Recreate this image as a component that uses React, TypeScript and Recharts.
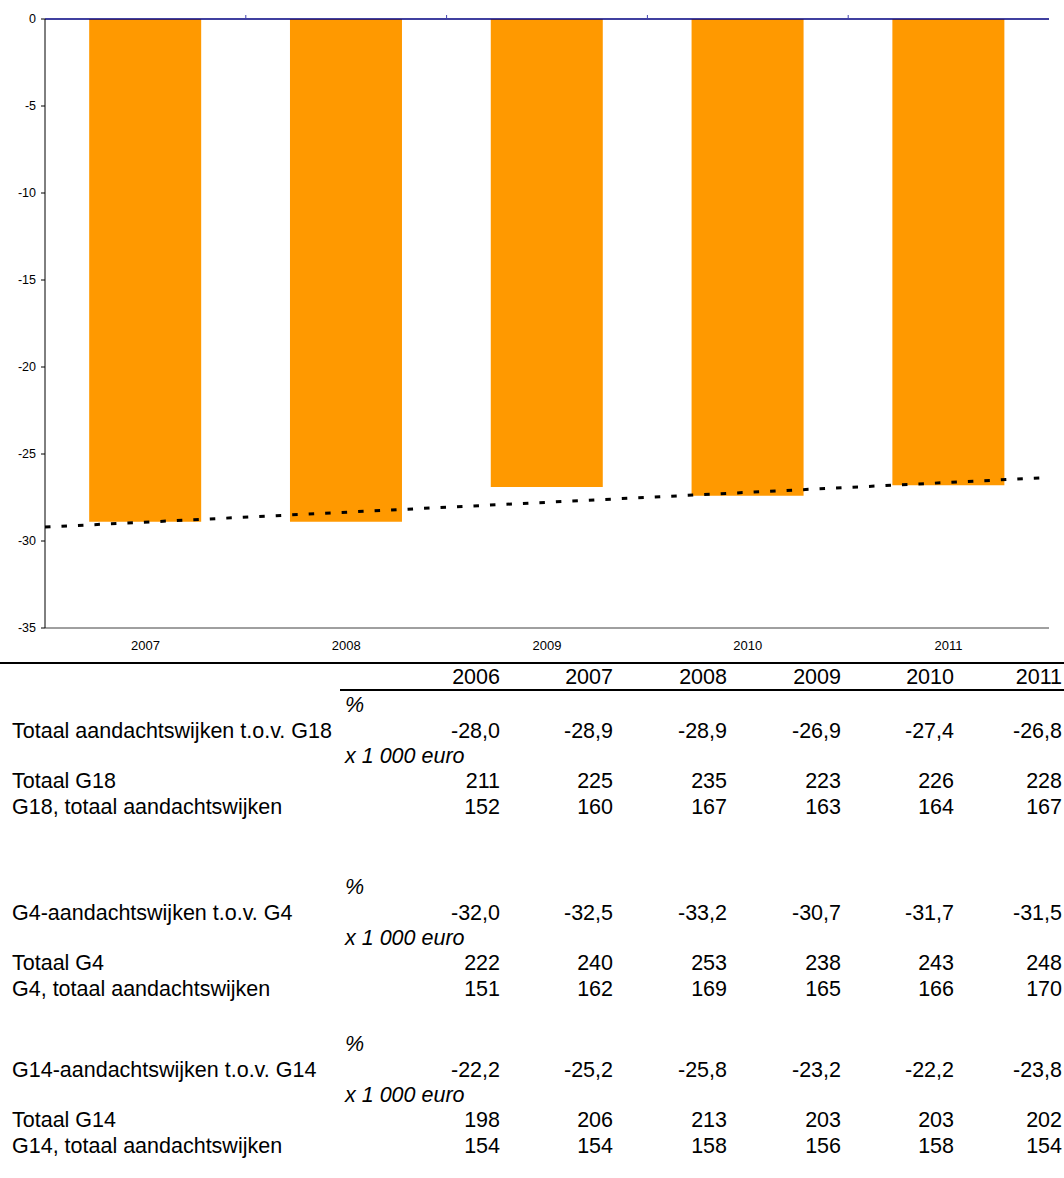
import { Bar, ComposedChart, ReferenceLine, XAxis, YAxis } from 'recharts'

const years = ['2006', '2007', '2008', '2009', '2010', '2011']

const g18Pct = [-28.0, -28.9, -28.9, -26.9, -27.4, -26.8]
const g18Total = [211, 225, 235, 223, 226, 228]
const g18Wijken = [152, 160, 167, 163, 164, 167]

const g4Pct = [-32.0, -32.5, -33.2, -30.7, -31.7, -31.5]
const g4Total = [222, 240, 253, 238, 243, 248]
const g4Wijken = [151, 162, 169, 165, 166, 170]

const g14Pct = [-22.2, -25.2, -25.8, -23.2, -22.2, -23.8]
const g14Total = [198, 206, 213, 203, 203, 202]
const g14Wijken = [154, 154, 158, 156, 158, 154]

// trend line at the left and right edge of the plot
const trendEnds = [-29.2, -26.35]
const yTicks = [0, -5, -10, -15, -20, -25, -30, -35]

// the chart shows 2007-2011 of the G18 percentage row
const chartData = years.slice(1).map((year, i) => ({
  year,
  idx: i + 1,
  value: g18Pct[i + 1],
}))

const sections = [
  {
    pctLabel: 'Totaal aandachtswijken t.o.v. G18',
    pct: g18Pct,
    totalLabel: 'Totaal G18',
    total: g18Total,
    wijkLabel: 'G18, totaal aandachtswijken',
    wijk: g18Wijken,
  },
  {
    pctLabel: 'G4-aandachtswijken t.o.v. G4',
    pct: g4Pct,
    totalLabel: 'Totaal G4',
    total: g4Total,
    wijkLabel: 'G4, totaal aandachtswijken',
    wijk: g4Wijken,
  },
  {
    pctLabel: 'G14-aandachtswijken t.o.v. G14',
    pct: g14Pct,
    totalLabel: 'Totaal G14',
    total: g14Total,
    wijkLabel: 'G14, totaal aandachtswijken',
    wijk: g14Wijken,
  },
]

const sectionTops = [705, 887, 1044]
const rowOffsets = [0, 26, 50.5, 76, 102]
const colRights = [500, 613, 727, 841, 954, 1062]
const PAGE_W = 1064

const fmtPct = (v: number) => v.toFixed(1).replace('.', ',')

function Cell({ y, x, right, italic, children }: {
  y: number
  x?: number
  right?: number
  italic?: boolean
  children: React.ReactNode
}) {
  return (
    <div
      style={{
        position: 'absolute',
        top: y - 13,
        height: 26,
        lineHeight: '26px',
        whiteSpace: 'nowrap',
        left: x,
        right: right !== undefined ? PAGE_W - right : undefined,
        textAlign: right !== undefined ? 'right' : 'left',
        fontStyle: italic ? 'italic' : 'normal',
      }}
    >
      {children}
    </div>
  )
}

function ValueRow({ y, label, values, format }: {
  y: number
  label: string
  values: number[]
  format?: (v: number) => string
}) {
  return (
    <>
      <Cell y={y} x={12}>{label}</Cell>
      {values.map((v, i) => (
        <Cell key={i} y={y} right={colRights[i]}>
          {format ? format(v) : String(v)}
        </Cell>
      ))}
    </>
  )
}

export default function App() {
  return (
    <div
      style={{
        position: 'absolute',
        top: 0,
        left: 0,
        width: PAGE_W,
        height: 1178,
        background: '#fff',
        fontFamily: '"Liberation Sans", Arial, sans-serif',
        fontSize: 21.5,
        color: '#000',
      }}
    >
      <ComposedChart
        width={PAGE_W}
        height={662}
        data={chartData}
        margin={{ top: 18, right: 15, left: 5, bottom: 0 }}
        barCategoryGap="22%"
      >
        <XAxis
          dataKey="year"
          axisLine={{ stroke: '#404040' }}
          tickLine={false}
          tickSize={0}
          tickMargin={13}
          height={34}
          tick={{ fontSize: 13, fill: '#000' }}
        />
        <XAxis
          xAxisId="trend"
          type="number"
          dataKey="idx"
          domain={[0.5, 5.5]}
          allowDataOverflow
          orientation="top"
          height={1}
          ticks={[1.5, 2.5, 3.5, 4.5]}
          tickSize={4}
          tickFormatter={() => ''}
          tickLine={{ stroke: '#4040b0' }}
          axisLine={false}
        />
        <YAxis
          domain={[-35, 0]}
          ticks={yTicks}
          width={40}
          axisLine={{ stroke: '#000' }}
          tickLine={{ stroke: '#000' }}
          tickSize={4}
          tickMargin={5}
          tick={{ fontSize: 12.5, fill: '#000' }}
        />
        <YAxis
          yAxisId="right"
          orientation="right"
          domain={[-35, 0]}
          width={0}
          tick={false}
          axisLine={{ stroke: '#404040' }}
        />
        <Bar dataKey="value" fill="#FF9900" isAnimationActive={false} />
        <ReferenceLine y={0} stroke="#000080" strokeWidth={1.5} />
        <ReferenceLine
          xAxisId="trend"
          segment={[
            { x: 0.5, y: trendEnds[0] },
            { x: 5.5, y: trendEnds[1] },
          ]}
          stroke="#000"
          strokeWidth={3}
          strokeDasharray="5.5 11"
          ifOverflow="visible"
        />
      </ComposedChart>

      <div style={{ position: 'absolute', top: 662, left: 0, width: PAGE_W, height: 2, background: '#000' }} />
      <div style={{ position: 'absolute', top: 689, left: 340, width: PAGE_W - 340, height: 2, background: '#000' }} />

      {years.map((yr, i) => (
        <Cell key={yr} y={677} right={colRights[i]}>{yr}</Cell>
      ))}

      {sections.map((s, si) => {
        const top = sectionTops[si]
        return (
          <div key={si}>
            <Cell y={top + rowOffsets[0]} x={345} italic>%</Cell>
            <ValueRow y={top + rowOffsets[1]} label={s.pctLabel} values={s.pct} format={fmtPct} />
            <Cell y={top + rowOffsets[2]} x={345} italic>x 1 000 euro</Cell>
            <ValueRow y={top + rowOffsets[3]} label={s.totalLabel} values={s.total} />
            <ValueRow y={top + rowOffsets[4]} label={s.wijkLabel} values={s.wijk} />
          </div>
        )
      })}
    </div>
  )
}
